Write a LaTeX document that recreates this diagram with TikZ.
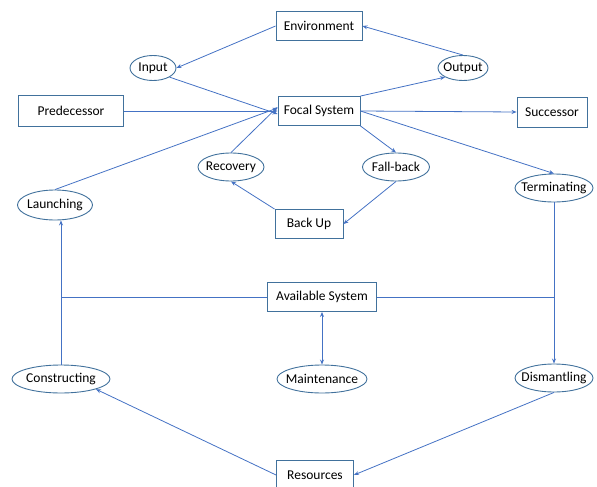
\documentclass[tikz,border=0pt]{standalone}
\usepackage{fontspec}
\setmainfont{Carlito}
\usetikzlibrary{arrows.meta,shapes.geometric}
\definecolor{linkblue}{HTML}{4472C4}
\definecolor{edgeblue}{HTML}{41719C}
% label of zero width, so an oval keeps its given size
\newcommand\ovallabel[1]{\makebox[0pt]{#1}}
\tikzset{
  lbl/.style={font=\fontsize{13.5}{15}\selectfont},
  box/.style={draw=edgeblue, line width=0.9pt, rectangle, inner sep=0pt, lbl},
  oval/.style={draw=edgeblue, line width=0.9pt, ellipse, inner sep=0pt, lbl},
  link/.style={draw=linkblue, line width=0.8pt},
  arr/.style={link, -{Stealth[length=5pt,width=4pt]}},
  arrs/.style={link, {Stealth[length=5pt,width=4pt]}-{Stealth[length=5pt,width=4pt]}},
}
\begin{document}
\begin{tikzpicture}[x=1pt,y=-1pt]
\useasboundingbox (0,0) rectangle (597,487);

% system and its surroundings
\node[box, minimum width=86, minimum height=29] (env) at (319,26) {Environment};
\node[oval, minimum width=46, minimum height=25] (in) at (153,68) {\ovallabel{Input}};
\node[oval, minimum width=50, minimum height=25] (out) at (463,68) {\ovallabel{Output}};
\node[box, minimum width=105, minimum height=31] (pred) at (71,111) {Predecessor};
\node[box, minimum width=82, minimum height=29] (focal) at (319,111) {Focal System};
\node[box, minimum width=70, minimum height=30] (succ) at (552,112) {Successor};

% recovery loop
\node[oval, minimum width=66, minimum height=28] (rec) at (231,167) {\ovallabel{Recovery}};
\node[oval, minimum width=67, minimum height=28] (fall) at (396,167) {\ovallabel{Fall-back}};
\node[box, minimum width=68, minimum height=29] (backup) at (309,224) {Back Up};

% life cycle
\node[oval, minimum width=75, minimum height=30] (launch) at (55,205) {\ovallabel{Launching}};
\node[oval, minimum width=78, minimum height=28] (term) at (554,188) {\ovallabel{Terminating}};
\node[box, minimum width=109, minimum height=29] (avail) at (322,297) {Available System};
\node[oval, minimum width=98, minimum height=28] (constr) at (61,379) {\ovallabel{Constructing}};
\node[oval, minimum width=90, minimum height=28] (maint) at (322,379) {\ovallabel{Maintenance}};
\node[oval, minimum width=78, minimum height=28] (dism) at (554,378) {\ovallabel{Dismantling}};
\node[box, minimum width=77, minimum height=30] (res) at (315,475) {Resources};

\coordinate (lj) at (61,297);
\coordinate (rj) at (554,297);

% flows around the focal system
\draw[arr] (env.west) -- (in.east);
\draw[arr] (in.south east) -- ([yshift=-3]focal.west);
\draw[arr] (pred.east) -- (focal.west);
\draw[arr] (focal.north east) -- (out.south west);
\draw[arr] (out.north) -- (env.east);
\draw[arr] (focal.east) -- (succ.west);
\draw[arr] (launch.north) -- ([yshift=3]focal.west);
\draw[arr] (rec.north) -- ([yshift=4]focal.west);
\draw[arr] (focal.south east) -- (fall.north);
\draw[arr] (fall.south) -- (backup.east);
\draw[arr] (backup.north west) -- (rec.south);
\draw[arr] (focal.east) -- (term.north);

% life cycle connectors
\draw[arr] (term.south) -- (dism.north);
\draw[link] (avail.east) -- (rj);
\draw[link] (avail.west) -- (lj);
\draw[arr] (constr.north) -- (constr.north |- launch.south);
\draw[arrs] (avail.south) -- (maint.north);
\draw[arr] (res.west) -- (constr.south east);
\draw[arr] (dism.south) -- (res.east);
\end{tikzpicture}
\end{document}
